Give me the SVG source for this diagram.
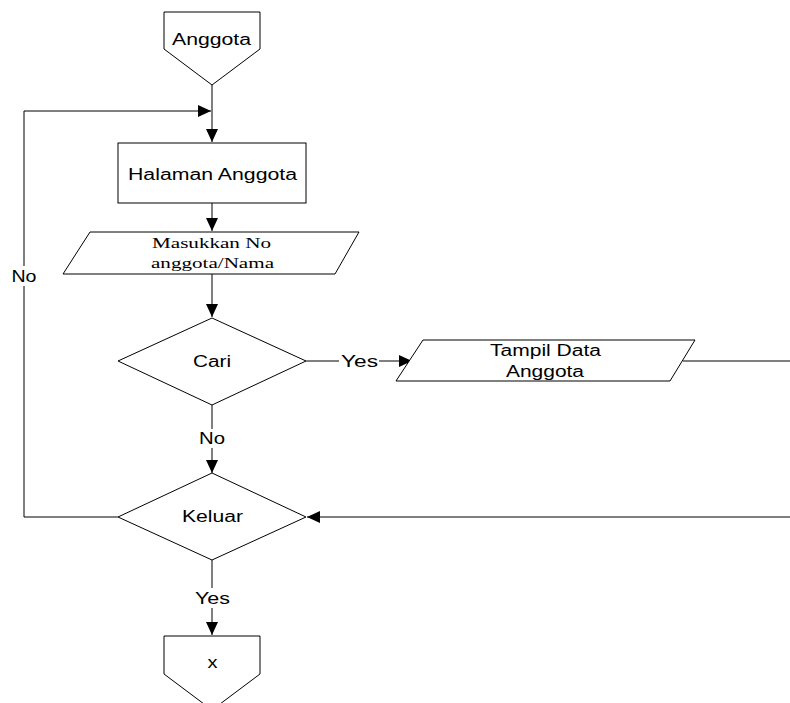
<svg xmlns="http://www.w3.org/2000/svg" width="790" height="703" viewBox="0 0 790 703">
<style>
.s{fill:#fff;stroke:#000;stroke-width:1}
.c{fill:none;stroke:#000;stroke-width:1}
.t{font-family:"Liberation Sans",Arial,sans-serif;font-size:16px;fill:#000;text-anchor:middle}
.sr{font-family:"Liberation Serif","Times New Roman",serif;font-size:15px;fill:#000;text-anchor:middle}
.bg{fill:#fff}
</style>
<defs>
<marker id="ah" markerUnits="userSpaceOnUse" markerWidth="14" markerHeight="12" refX="13" refY="6" orient="auto">
<path d="M0,0 L13,6 L0,12 Z" fill="#000"/>
</marker>
</defs>
<g id="connectors">
<path class="c" d="M212,85 V142" marker-end="url(#ah)"/>
<path class="c" d="M118,517 H24 V111 H211" marker-end="url(#ah)"/>
<path class="c" d="M212,203 V231" marker-end="url(#ah)"/>
<path class="c" d="M212,274 V317" marker-end="url(#ah)"/>
<path class="c" d="M306,361 H412" marker-end="url(#ah)"/>
<path class="c" d="M683,361 H790"/>
<path class="c" d="M212,405 V473" marker-end="url(#ah)"/>
<path class="c" d="M790,517 H307" marker-end="url(#ah)"/>
<path class="c" d="M212,560 V635" marker-end="url(#ah)"/>
<rect class="bg" x="10" y="266" width="28" height="20"/>
<text class="t" x="24" y="282" textLength="25" lengthAdjust="spacingAndGlyphs">No</text>
<rect class="bg" x="339" y="352" width="40" height="18"/>
<text class="t" x="359.5" y="367" textLength="37" lengthAdjust="spacingAndGlyphs">Yes</text>
<rect class="bg" x="197" y="429" width="30" height="19"/>
<text class="t" x="212" y="444" textLength="26" lengthAdjust="spacingAndGlyphs">No</text>
<rect class="bg" x="193" y="588" width="39" height="20"/>
<text class="t" x="212.5" y="604" textLength="35" lengthAdjust="spacingAndGlyphs">Yes</text>
</g>
<g id="start">
<path class="s" d="M164,12 H260 V49 L212,85 L164,49 Z"/>
<text class="t" x="211.5" y="45" textLength="79" lengthAdjust="spacingAndGlyphs">Anggota</text>
</g>
<g id="halaman">
<rect class="s" x="118" y="143" width="188" height="60"/>
<text class="t" x="212.5" y="180" textLength="169" lengthAdjust="spacingAndGlyphs">Halaman Anggota</text>
</g>
<g id="input">
<path class="s" d="M90,232 H359 L335,274 H63 Z"/>
<text class="sr" x="211.5" y="248" textLength="119" lengthAdjust="spacingAndGlyphs">Masukkan No</text>
<text class="sr" x="212.5" y="268" textLength="123" lengthAdjust="spacingAndGlyphs">anggota/Nama</text>
</g>
<g id="cari">
<path class="s" d="M212,318 L306,361 L212,405 L118,361 Z"/>
<text class="t" x="212" y="367" textLength="38" lengthAdjust="spacingAndGlyphs">Cari</text>
</g>
<g id="tampil">
<path class="s" d="M423,340 H695 L670,381 H396 Z"/>
<text class="t" x="545.5" y="356" textLength="111" lengthAdjust="spacingAndGlyphs">Tampil Data</text>
<text class="t" x="545" y="377" textLength="78" lengthAdjust="spacingAndGlyphs">Anggota</text>
</g>
<g id="keluar">
<path class="s" d="M212,473 L306,517 L212,560 L118,517 Z"/>
<text class="t" x="212.5" y="522" textLength="61" lengthAdjust="spacingAndGlyphs">Keluar</text>
</g>
<g id="end">
<path class="s" d="M164,636 H260 V674 L212,710 L164,674 Z"/>
<text class="t" x="212.5" y="668" textLength="10" lengthAdjust="spacingAndGlyphs">x</text>
</g>
</svg>
